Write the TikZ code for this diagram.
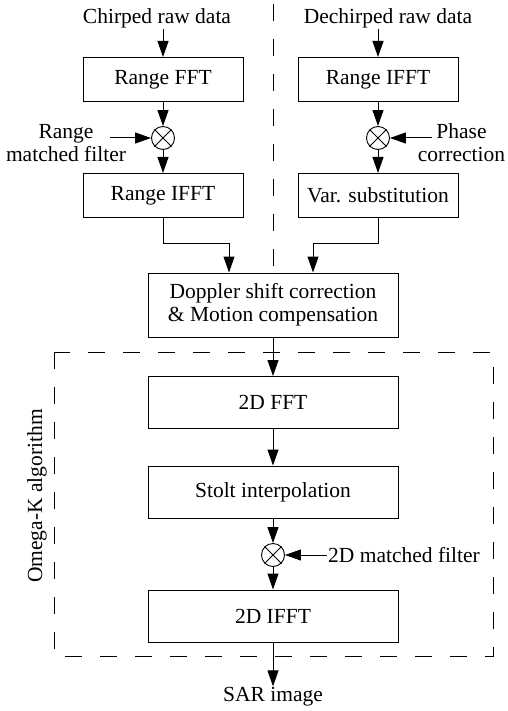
\documentclass[tikz,border=0pt]{standalone}
\usepackage{fontspec}
\setmainfont{Liberation Serif}
\usetikzlibrary{arrows.meta,positioning}

\begin{document}
\begin{tikzpicture}[x=1pt,y=-1pt]
            \tikzstyle{txt}=[font=\fontsize{21.5}{23}\selectfont,inner sep=1pt]
            \tikzstyle{block}=[txt,rectangle,draw,line width=1pt,inner sep=0pt,minimum width=160pt,minimum height=44pt]
            \tikzstyle{wide}=[block,minimum width=250pt,minimum height=52pt]   % omega-k steps
            \tikzstyle{mult}=[circle,draw,line width=0.9pt,minimum size=23pt,inner sep=0pt]

            \tikzstyle{flow}=[line width=1pt,-{Triangle[length=16pt,width=11pt]}]
            \tikzstyle{dashframe}=[line width=1pt,dash pattern=on 17pt off 18pt]

            \useasboundingbox (0,0) rectangle (507,711);

            % chirped branch
            \node[txt] (chirp) at (157,18) {Chirped raw data};
            \node[block] (rfft) at (163,79.5) {Range FFT};
            \node[mult] (mA) at (163,138) {};
            \node[txt,align=center] (rmf) at (66,143) {Range\\matched filter};
            \coordinate (rmfin) at (110,138);
            \node[block] (rifftA) at (163,195.5) {Range IFFT};

            % dechirped branch
            \node[txt] (dechirp) at (388,18) {Dechirped raw data};
            \node[block] (rifftB) at (378,79.5) {Range IFFT};
            \node[mult] (mB) at (378,138) {};
            \node[txt,align=center] (pc) at (461.5,143) {Phase\\correction};
            \coordinate (pcin) at (432,138);
            \node[block] (vsub) at (378,195.5) {Var. substitution};

            \draw[dashframe] (273,4) -- (273,267);

            \node[wide,minimum height=64pt,align=center] (dop) at (273,305) {Doppler shift correction\\\& Motion compensation};

            % omega-k
            \node[wide] (fft2) at (273,402.5) {2D FFT};
            \node[wide] (stolt) at (273,492) {Stolt interpolation};
            \node[mult] (mC) at (273,555) {};
            \node[txt,anchor=west] (mf) at (327,555) {2D matched filter};
            \node[wide] (ifft2) at (273,616) {2D IFFT};
            \node[txt] (sar) at (273,697) {SAR image};

            \draw[dashframe] (54,352) rectangle (493,656);
            \node[txt,rotate=90] (omk) at (37,496) {Omega-K algorithm};

            \foreach \m in {mA,mB,mC}
                \draw[line width=0.9pt] (\m.north west) -- (\m.south east) (\m.north east) -- (\m.south west);

            \draw[flow] (chirp.south -| rfft.north) -- (rfft.north);
            \draw[flow] (rfft) -- (mA);
            \draw[flow] (rmfin) -- (mA);
            \draw[flow] (mA) -- (rifftA);
            \draw[flow] (dechirp.south -| rifftB.north) -- (rifftB.north);
            \draw[flow] (rifftB) -- (mB);
            \draw[flow] (pcin) -- (mB);
            \draw[flow] (mB) -- (vsub);
            \draw[flow] (rifftA.south) -- ++(0,25) -| ([xshift=-44pt]dop.north);
            \draw[flow] (vsub.south) -- ++(0,25) -| ([xshift=40pt]dop.north);
            \draw[flow] (dop) -- (fft2);
            \draw[flow] (fft2) -- (stolt);
            \draw[flow] (stolt) -- (mC);
            \draw[flow] (mf.west) -- (mC);
            \draw[flow] (mC) -- (ifft2);
            \draw[flow] (ifft2) -- (sar);
        \end{tikzpicture}
\end{document}
